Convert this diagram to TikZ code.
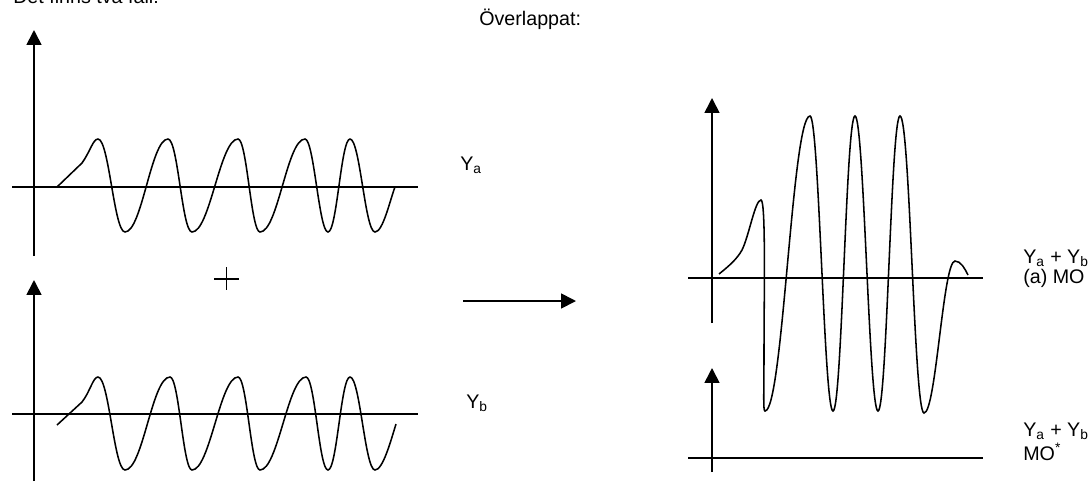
\documentclass[tikz,border=0pt]{standalone}
\usepackage{fontspec}
\setmainfont{Liberation Sans}
\usetikzlibrary{arrows.meta}

\begin{document}
\begin{tikzpicture}[>={Triangle[length=10.5pt,width=10.5pt]}, x=0.025cm, y=-0.025cm,
    axis/.style={line width=1.2pt},
    wave/.style={line width=1.1pt},
    lbl/.style={anchor=base west, inner sep=0pt, font=\fontsize{14}{17}\selectfont}]
  \useasboundingbox (0,0) rectangle (1089,481);

  % Headings
  \node[lbl] (fall) at (13,3) {Det finns två fall:};
  \node[lbl] (over) at (479,25) {Överlappat:};

  % Upper left graph: Y_a
  \draw[axis,->] (34,256) -- (34,30);
  \draw[axis] (12,187) -- (418,187);
  \draw[wave] (57,187) -- (82,163) .. controls (90,152) and (93,139) .. (98,139)
    \foreach \x/\y/\d in {125/232/11, 168/139/17, 192/232/10, 238/139/18, 260/232/9,
                          305/139/18, 328/232/9, 350/139/9, 375/232/10}
      { .. controls +(\d,0) and +(-\d,0) .. (\x,\y) }
    .. controls +(8,0) and +(-5,13) .. (395,187);
  \node[lbl] (ya) at (460,170) {Y\textsubscript{a}};

  % Plus sign
  \draw[axis] (214,279) -- (239,279) (226.5,267) -- (226.5,290);

  % Lower left graph: Y_b
  \draw[axis,->] (34,481) -- (34,280);
  \draw[axis] (12,414) -- (418,414);
  \draw[wave] (57,425) -- (82,402) .. controls (90,392) and (93,377) .. (98,377)
    \foreach \x/\y/\d in {125/470/11, 170/377/18, 192/470/9, 238/377/18, 260/470/9,
                          306/377/18, 328/470/9, 350/377/9, 375/470/10}
      { .. controls +(\d,0) and +(-\d,0) .. (\x,\y) }
    .. controls +(8,0) and +(-5,16) .. (396,424);
  \node[lbl] (yb) at (466,408) {Y\textsubscript{b}};

  % Arrow between the two sides
  \coordinate (arrS) at (463,301);
  \coordinate (arrE) at (576,301);
  \draw[axis,->] (arrS) -- (arrE);

  % Upper right graph: (a) MO
  \draw[axis,->] (712,323) -- (712,98);
  \draw[axis] (688,278) -- (983,278);
  \draw[wave] (719,274) .. controls (729,266) and (737,259) .. (742,250)
    .. controls (749,236) and (755,200) .. (761,200)
    .. controls (766,200) and (764,300) .. (764,350)
    .. controls (764,395) and (763,411) .. (765,411)
    \foreach \x/\y/\d in {810/116/18, 833/411/9, 855/116/9, 878/411/9, 900/116/9,
                          924/413/10, 955/261/12}
      { .. controls +(\d,0) and +(-\d,0) .. (\x,\y) }
    .. controls +(6,0) and +(-3,-6) .. (968,275);
  \node[lbl, align=left] (sumA) at (1023,283) {Y\textsubscript{a} + Y\textsubscript{b}\\[-3pt](a) MO};

  % Lower right graph: MO*
  \draw[axis,->] (712,472) -- (712,368);
  \draw[axis] (688,458) -- (983,458);
  \node[lbl, align=left] (sumB) at (1023,460) {Y\textsubscript{a} + Y\textsubscript{b}\\MO\textsuperscript{*}};
\end{tikzpicture}
\end{document}
